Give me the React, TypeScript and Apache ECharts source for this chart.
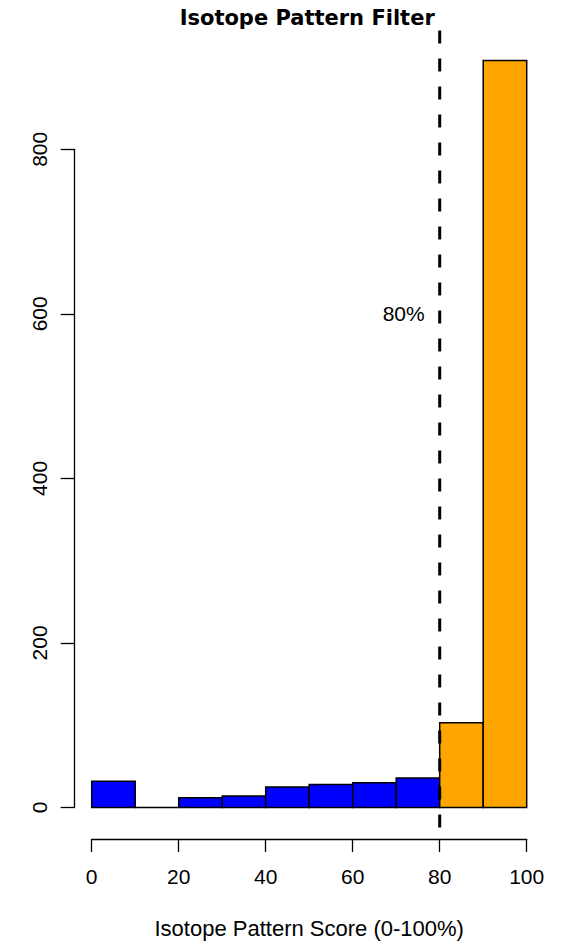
import React, { useEffect, useRef } from "react";
import * as echarts from "echarts";

// Histogram of isotope pattern scores (bin width 10)
const binStarts = [0, 10, 20, 30, 40, 50, 60, 70, 80, 90];
const binWidth = 10;
const counts = [32, 0, 12, 14, 25, 28, 30, 36, 103, 908];

const xTicks = [0, 20, 40, 60, 80, 100];
const yTicks = [0, 200, 400, 600, 800];

const threshold = 80;
const thresholdLabel = "80%";
const chartTitle = "Isotope Pattern Filter";
const xTitle = "Isotope Pattern Score (0-100%)";

const BELOW_COLOR = "#0000FF";
const ABOVE_COLOR = "#FFA500";
const FONT = "'Liberation Sans', Arial, sans-serif";

export default function App() {
  const ref = useRef<HTMLDivElement>(null);

  useEffect(() => {
    document.body.style.margin = "0";
    if (!ref.current) return;
    const chart = echarts.init(ref.current, undefined, { renderer: "svg" });

    const data = binStarts.map((s, i) => [s, s + binWidth, counts[i]]);

    chart.setOption({
      animation: false,
      backgroundColor: "#ffffff",
      grid: {
        left: 91.7,
        right: 35.3,
        top: 149.3,
        bottom: 136.5,
        outerBoundsMode: "none",
      },
      xAxis: {
        type: "value",
        min: xTicks[0],
        max: xTicks[xTicks.length - 1],
        interval: 20,
        offset: 31.5,
        splitLine: { show: false },
        axisLine: { show: true, onZero: false, lineStyle: { color: "#000", width: 1.3 } },
        axisTick: { show: true, length: 13, lineStyle: { color: "#000", width: 1.3 } },
        axisLabel: { margin: 27, color: "#000", fontSize: 21, fontFamily: FONT },
        name: xTitle,
        nameLocation: "middle",
        nameGap: 89,
        nameTextStyle: { color: "#000", fontSize: 22, fontFamily: FONT, verticalAlign: "middle" },
      },
      yAxis: {
        type: "value",
        min: yTicks[0],
        max: yTicks[yTicks.length - 1],
        interval: 200,
        offset: 17,
        splitLine: { show: false },
        axisLine: { show: true, onZero: false, lineStyle: { color: "#000", width: 1.3 } },
        axisTick: { show: true, length: 14, lineStyle: { color: "#000", width: 1.3 } },
        axisLabel: { rotate: 90, margin: 25, color: "#000", fontSize: 21, fontFamily: FONT },
      },
      series: [
        {
          type: "custom",
          clip: false,
          data,
          encode: { x: [0, 1], y: 2 },
          renderItem: (params: any, api: any) => {
            const x0 = api.value(0);
            const x1 = api.value(1);
            const c = api.value(2);
            const p0 = api.coord([x0, c]);
            const p1 = api.coord([x1, 0]);
            return {
              type: "rect",
              shape: { x: p0[0], y: p0[1], width: p1[0] - p0[0], height: p1[1] - p0[1] },
              style: {
                fill: x0 >= threshold ? ABOVE_COLOR : BELOW_COLOR,
                stroke: "#000",
                lineWidth: 1.5,
              },
            };
          },
        },
      ],
    });

    // Plot region extends 4% beyond the data range, as in base R graphics
    const yMax = Math.max(...counts);
    const plotTop = chart.convertToPixel({ yAxisIndex: 0 }, yMax * 1.04) as number;
    const plotBottom = chart.convertToPixel({ yAxisIndex: 0 }, -yMax * 0.04) as number;
    const lineX = chart.convertToPixel({ xAxisIndex: 0 }, threshold) as number;
    const midX = chart.convertToPixel({ xAxisIndex: 0 }, 50) as number;
    const labelY = chart.convertToPixel({ yAxisIndex: 0 }, 600) as number;

    chart.setOption({
      graphic: [
        {
          type: "line",
          shape: { x1: lineX, y1: plotTop, x2: lineX, y2: plotBottom },
          style: { stroke: "#000", lineWidth: 3, lineDash: [13, 15] },
          z: 10,
        },
        {
          type: "text",
          x: lineX - 15,
          y: labelY,
          style: {
            text: thresholdLabel,
            fill: "#000",
            font: `21px ${FONT}`,
            textAlign: "right",
            textVerticalAlign: "middle",
          },
        },
        {
          type: "text",
          x: midX - 2,
          y: 18,
          style: {
            text: chartTitle,
            fill: "#000",
            font: `bold 21px 'DejaVu Sans', Verdana, sans-serif`,
            textAlign: "center",
            textVerticalAlign: "middle",
          },
        },
      ],
    });

    return () => chart.dispose();
  }, []);

  return <div ref={ref} style={{ width: 562, height: 944 }} />;
}
